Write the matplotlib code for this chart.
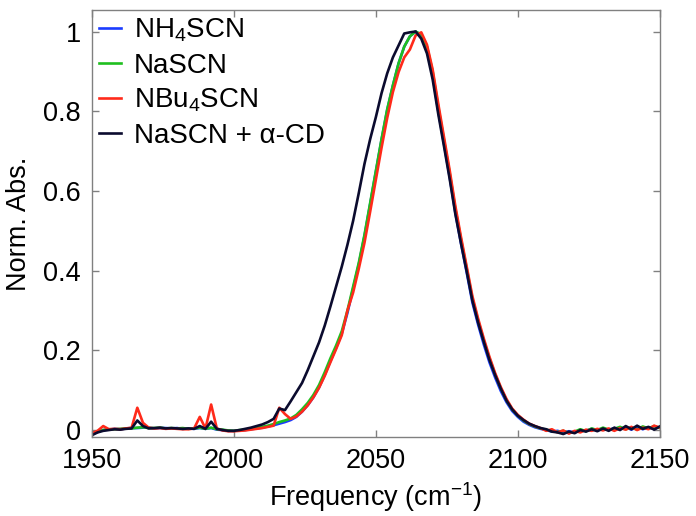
import numpy as np
import matplotlib
matplotlib.use("Agg")
import matplotlib.pyplot as plt

plt.rcParams['font.family'] = ['Liberation Sans', 'DejaVu Sans']
plt.rcParams['mathtext.fontset'] = 'custom'
plt.rcParams['mathtext.rm'] = 'Liberation Sans'
plt.rcParams['mathtext.it'] = 'Liberation Sans:italic'

# wavenumber grid (cm-1), every 2 cm-1 from 1950 to 2150
freq = np.arange(1950, 2151, 2)

nh4_scn = [
    -0.010, -0.005, 0.000, 0.001, 0.003, 0.002, 0.004, 0.005, 0.005, 0.006,
    0.006, 0.004, 0.005, 0.005, 0.004, 0.005, 0.003, 0.004, 0.003, 0.005,
    0.003, 0.005, 0.001, 0.000, -0.002, -0.002, -0.001, 0.000, 0.002, 0.004,
    0.006, 0.009, 0.012, 0.016, 0.020, 0.025, 0.033, 0.046, 0.062, 0.082,
    0.107, 0.138, 0.173, 0.206, 0.242, 0.294, 0.355, 0.416, 0.487, 0.567,
    0.648, 0.728, 0.803, 0.864, 0.920, 0.962, 0.988, 1.000, 0.990, 0.955,
    0.890, 0.800, 0.718, 0.635, 0.545, 0.468, 0.395, 0.320, 0.265, 0.215,
    0.170, 0.132, 0.098, 0.070, 0.048, 0.033, 0.021, 0.013, 0.007, 0.003,
    0.000, -0.004, -0.002, -0.006, -0.003, -0.006, 0.000, -0.002, 0.003, -0.001,
    0.004, 0.000, 0.005, 0.002, 0.007, 0.001, 0.008, 0.002, 0.007, 0.003,
    0.008]

na_scn = [
    -0.008, -0.004, 0.000, 0.002, 0.002, 0.003, 0.004, 0.004, 0.006, 0.007,
    0.005, 0.005, 0.006, 0.004, 0.005, 0.004, 0.005, 0.003, 0.004, 0.006,
    0.003, 0.006, 0.002, 0.001, -0.001, -0.002, 0.000, 0.001, 0.003, 0.005,
    0.008, 0.011, 0.015, 0.020, 0.024, 0.029, 0.038, 0.052, 0.068, 0.088,
    0.113, 0.145, 0.180, 0.212, 0.248, 0.300, 0.360, 0.420, 0.490, 0.570,
    0.650, 0.730, 0.805, 0.865, 0.920, 0.962, 0.988, 1.000, 0.993, 0.962,
    0.900, 0.810, 0.728, 0.645, 0.555, 0.478, 0.405, 0.330, 0.275, 0.225,
    0.180, 0.140, 0.105, 0.075, 0.052, 0.036, 0.024, 0.015, 0.009, 0.004,
    0.001, -0.003, -0.005, -0.002, -0.007, -0.004, 0.002, -0.003, 0.004, 0.000,
    0.006, 0.001, 0.003, 0.008, 0.002, 0.006, 0.001, 0.009, 0.004, 0.010,
    0.005]

nbu4_scn = [
    -0.008, -0.002, 0.010, 0.002, 0.003, 0.002, 0.004, 0.006, 0.056, 0.018,
    0.006, 0.004, 0.005, 0.003, 0.004, 0.003, 0.002, 0.002, 0.004, 0.033,
    0.004, 0.064, 0.004, -0.001, -0.003, -0.003, -0.002, -0.001, 0.001, 0.003,
    0.005, 0.008, 0.011, 0.056, 0.040, 0.028, 0.034, 0.046, 0.062, 0.082,
    0.106, 0.136, 0.170, 0.203, 0.238, 0.300, 0.345, 0.405, 0.470, 0.548,
    0.628, 0.708, 0.783, 0.848, 0.898, 0.935, 0.955, 0.990, 0.998, 0.967,
    0.905, 0.818, 0.735, 0.652, 0.562, 0.484, 0.410, 0.336, 0.280, 0.230,
    0.184, 0.143, 0.108, 0.078, 0.054, 0.038, 0.026, 0.016, 0.010, 0.005,
    -0.002, 0.002, -0.006, -0.001, -0.009, -0.002, -0.006, 0.001, -0.002, 0.003,
    -0.001, 0.004, -0.002, 0.005, 0.001, 0.008, 0.000, 0.006, 0.002, 0.011,
    0.006]

na_scn_acd = [
    -0.013, -0.006, -0.002, 0.000, 0.002, 0.001, 0.003, 0.004, 0.024, 0.010,
    0.004, 0.005, 0.006, 0.004, 0.005, 0.004, 0.003, 0.004, 0.003, 0.010,
    0.003, 0.021, 0.003, 0.000, -0.002, -0.002, 0.000, 0.003, 0.006, 0.010,
    0.014, 0.020, 0.028, 0.054, 0.050, 0.072, 0.095, 0.118, 0.150, 0.185,
    0.220, 0.262, 0.310, 0.360, 0.410, 0.465, 0.525, 0.595, 0.668, 0.730,
    0.785, 0.845, 0.895, 0.935, 0.965, 0.995, 0.998, 1.000, 0.982, 0.945,
    0.880, 0.792, 0.712, 0.630, 0.542, 0.468, 0.398, 0.325, 0.270, 0.222,
    0.176, 0.138, 0.104, 0.074, 0.052, 0.036, 0.025, 0.016, 0.010, 0.005,
    0.002, -0.004, -0.006, -0.010, -0.004, -0.008, 0.000, -0.004, 0.002, -0.003,
    0.004, -0.002, 0.006, 0.000, 0.010, 0.002, 0.011, 0.003, 0.008, 0.001,
    0.009]

labels = ['NH$_4$SCN', 'NaSCN', 'NBu$_4$SCN', 'NaSCN + α-CD']
colors = ['#1a3cff', '#1fbf1f', '#ff2a1a', '#0b0b2e']

fig = plt.figure(figsize=(6.96, 5.16), dpi=100)
ax = fig.add_axes([0.132, 0.153, 0.816, 0.828])

for y, lab, c in zip([nh4_scn, na_scn, nbu4_scn, na_scn_acd], labels, colors):
    ax.plot(freq, y, color=c, lw=1.9, label=lab)

ax.set_xlim(1950, 2150)
ax.set_ylim(-0.0176, 1.0545)
ax.set_xticks([1950, 2000, 2050, 2100, 2150])
ax.set_yticks([0, 0.2, 0.4, 0.6, 0.8, 1.0])
ax.set_yticklabels(['0', '0.2', '0.4', '0.6', '0.8', '1'])

for s in ax.spines.values():
    s.set_color('#808080')
    s.set_linewidth(1.0)
ax.tick_params(direction='in', length=5, width=1, color='#808080',
               top=True, right=True, labelsize=19.5, pad=8)

ax.set_xlabel('Frequency (cm$^{-1}$)', fontsize=19.5, labelpad=4)
ax.set_ylabel('Norm. Abs.', fontsize=19.5, labelpad=8)

ax.legend(loc='upper left', frameon=False, fontsize=20, handlelength=0.8,
          handletextpad=0.45, labelspacing=0.3, borderaxespad=0.05,
          borderpad=0.2)

fig.savefig('out.png', dpi=100)
